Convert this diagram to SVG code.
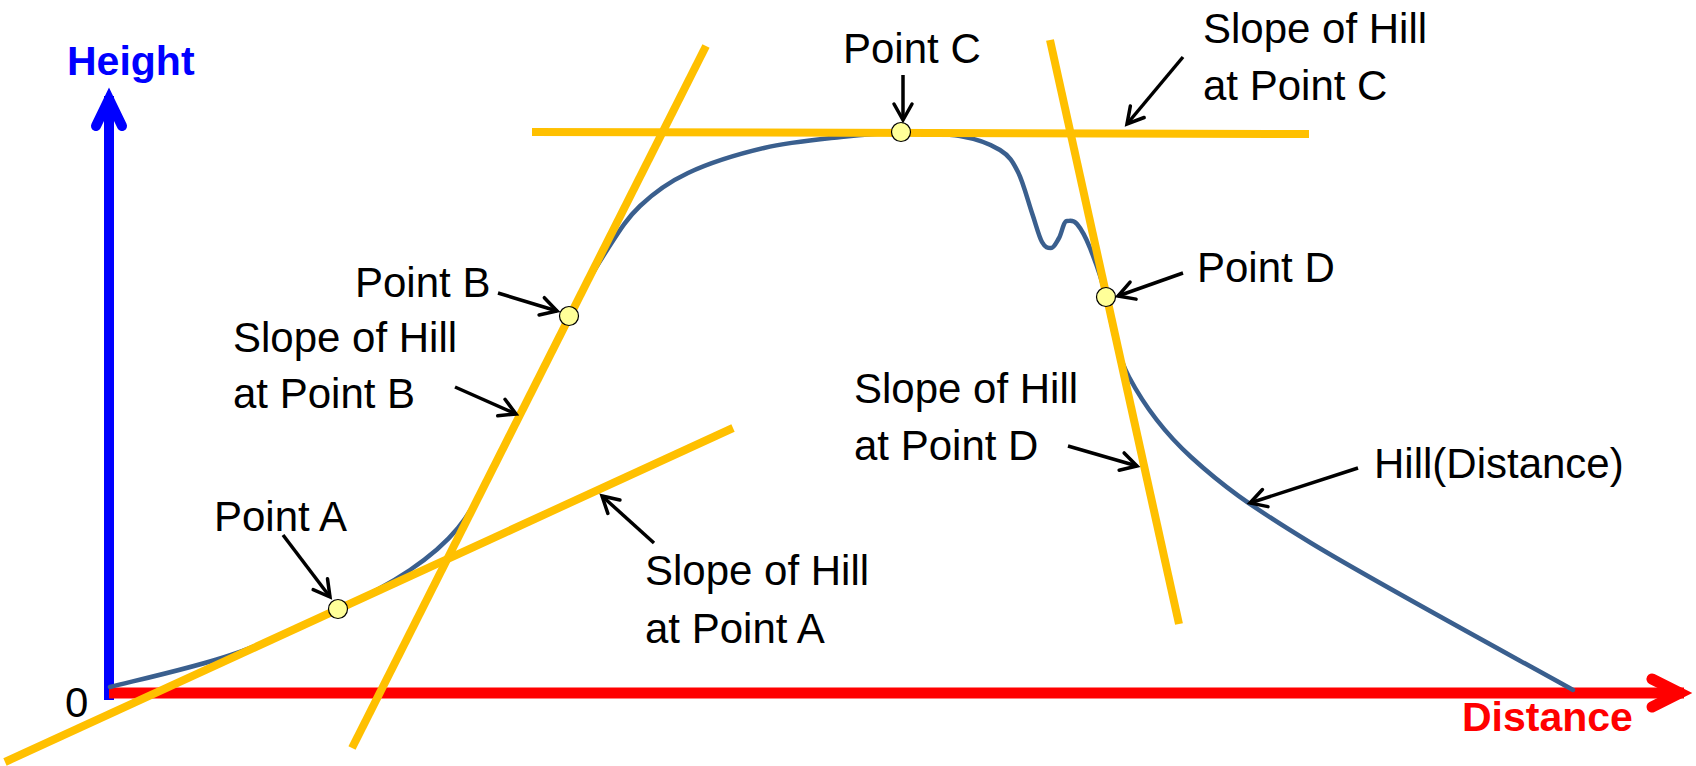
<svg xmlns="http://www.w3.org/2000/svg" width="1696" height="766" viewBox="0 0 1696 766">
  <defs>
    <style>
      .lbl { font-family: "Liberation Sans", Arial, sans-serif; font-size: 42px; fill: #000; }
      .axis-lbl { font-family: "Liberation Sans", Arial, sans-serif; font-size: 41px; font-weight: bold; }
      .tangent { stroke: #FFC000; stroke-width: 8; fill: none; }
      .hill { stroke: #3A5F8E; stroke-width: 4.5; fill: none; stroke-linecap: round; stroke-linejoin: round; }
      .pt { fill: #FFFF99; stroke: #000; stroke-width: 1.2; }
      .callout { stroke: #000; stroke-width: 3.5; fill: none; marker-end: url(#head); }
    </style>
    <marker id="head" markerUnits="userSpaceOnUse" markerWidth="40" markerHeight="40" viewBox="-20 -20 40 40" refX="0" refY="0" orient="auto" overflow="visible">
      <path d="M-16,-9 L0,0 L-16,9" fill="none" stroke="#000" stroke-width="3.5" stroke-linecap="round" stroke-linejoin="miter"/>
    </marker>
  </defs>

  <rect width="1696" height="766" fill="#fff"/>

  <!-- axes -->
  <g id="axes">
    <g id="y-axis">
      <line x1="109" y1="700" x2="109" y2="96" stroke="#0000FF" stroke-width="10"/>
      <polyline points="96,126 109,99 122,126" fill="none" stroke="#0000FF" stroke-width="10" stroke-linecap="round" stroke-linejoin="miter"/>
      <text class="axis-lbl" x="67" y="75" fill="#0000FF">Height</text>
    </g>
    <g id="x-axis">
      <line x1="109" y1="693" x2="1684" y2="693" stroke="#FF0000" stroke-width="11"/>
      <polyline points="1652,679 1680,693 1652,707" fill="none" stroke="#FF0000" stroke-width="11" stroke-linecap="round" stroke-linejoin="miter"/>
      <text class="axis-lbl" x="1462" y="731" fill="#FF0000">Distance</text>
    </g>
    <text id="origin" class="lbl" x="65" y="717">0</text>
  </g>

  <!-- the hill profile -->
  <g id="hill">
    <path class="hill" d="M110,687
      C130.2,681.7 193,668 231,655
      C269,642 307.3,623.7 338,609
      C362.6,597.8 387.6,585.1 410,570
      C427.4,558.3 444.7,544.2 458,528
      C472,511 482.1,489.6 492,470
      C517.7,419.1 543.3,366.9 569,316
      C581,293 595.2,268.3 607,250
      C618.8,231.7 626.5,218.8 640,206
      C653.5,193.2 667.3,182.7 688,173
      C708.7,163.3 738.5,154 764,148
      C789.5,142 818.2,139.5 841,137
      C863.8,134.5 881,133 901,133
      C921,133 943.5,133.2 960,136
      C976.5,138.8 990.3,144 1000,150
      C1009.7,156 1012.7,161.5 1018,172
      C1023.3,182.5 1028,201.3 1032,213
      C1036,224.7 1038.8,236.2 1042,242
      C1045.2,247.8 1048,248 1051,248
      C1054,248 1056.3,242.5 1059,238
      C1061.7,233.5 1063.5,221 1067,221
      C1070.5,221 1073.2,219.5 1077,224
      C1080.8,228.5 1085.2,235.8 1090,248
      C1094.8,260.2 1101,275 1106,297
      C1111,319 1114.8,350.3 1129,377
      C1143.2,403.7 1160.7,429.3 1191,457
      C1221.3,484.7 1247.3,504.2 1311,543
      C1374.7,581.8 1529.3,665.5 1573,690"/>
    <text class="lbl" x="1374" y="478">Hill(Distance)</text>
  </g>

  <!-- tangent lines with their captions -->
  <g id="tangent-a">
    <line class="tangent" x1="5" y1="762" x2="733" y2="428"/>
    <text class="lbl" x="645" y="585">Slope of Hill</text>
    <text class="lbl" x="645" y="643">at Point A</text>
  </g>
  <g id="tangent-b">
    <line class="tangent" x1="352" y1="748" x2="706" y2="46"/>
    <text class="lbl" x="233" y="352">Slope of Hill</text>
    <text class="lbl" x="233" y="408">at Point B</text>
  </g>
  <g id="tangent-c">
    <line class="tangent" x1="532" y1="132" x2="1309" y2="134"/>
    <text class="lbl" x="1203" y="43">Slope of Hill</text>
    <text class="lbl" x="1203" y="100">at Point C</text>
  </g>
  <g id="tangent-d">
    <line class="tangent" x1="1050" y1="40" x2="1179" y2="624"/>
    <text class="lbl" x="854" y="403">Slope of Hill</text>
    <text class="lbl" x="854" y="460">at Point D</text>
  </g>

  <!-- points on the hill -->
  <g id="point-a">
    <circle class="pt" cx="338" cy="609" r="9.5"/>
    <text class="lbl" x="214" y="531">Point A</text>
  </g>
  <g id="point-b">
    <circle class="pt" cx="569" cy="316" r="9.5"/>
    <text class="lbl" x="355" y="297">Point B</text>
  </g>
  <g id="point-c">
    <circle class="pt" cx="901" cy="132" r="9.5"/>
    <text class="lbl" x="843" y="63">Point C</text>
  </g>
  <g id="point-d">
    <circle class="pt" cx="1106" cy="297" r="9.5"/>
    <text class="lbl" x="1197" y="282">Point D</text>
  </g>

  <!-- callout arrows -->
  <g id="connectors">
    <line class="callout" x1="903" y1="75" x2="903" y2="120"/>
    <line class="callout" x1="1183" y1="57" x2="1127" y2="124"/>
    <line class="callout" x1="498" y1="293" x2="557" y2="311"/>
    <line class="callout" x1="455" y1="387" x2="516" y2="414"/>
    <line class="callout" x1="283" y1="535" x2="330" y2="597"/>
    <line class="callout" x1="654" y1="543" x2="602" y2="496"/>
    <line class="callout" x1="1183" y1="273" x2="1118" y2="296"/>
    <line class="callout" x1="1068" y1="446" x2="1137" y2="466"/>
    <line class="callout" x1="1358" y1="468" x2="1250" y2="503"/>
  </g>
</svg>
